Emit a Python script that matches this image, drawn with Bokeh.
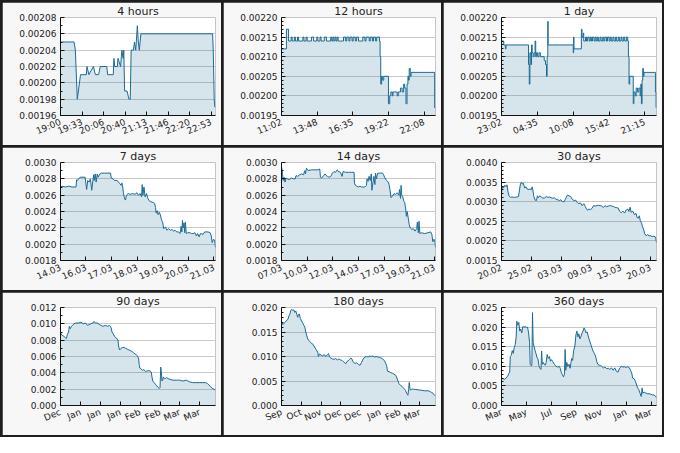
from bokeh.plotting import figure
from bokeh.layouts import gridplot
from bokeh.models import FixedTicker, PrintfTickFormatter, Range1d, ColumnDataSource
from bokeh.embed import file_html
from bokeh.resources import INLINE

# ---------------- data ----------------
# 4 hours: minutes since 19:00
T_4H = [0, 21, 23, 26, 27.7, 31, 40, 41, 44, 51, 54, 59, 61.5, 71.6, 73, 81.7, 82.7, 84, 88, 89,
        93, 95, 97, 98, 99.3, 103, 106, 108, 109.4, 113, 114.5, 116.5, 119, 120.5, 122, 124.5,
        235.5, 236.5, 238, 239]
V_4H = [0.00205, 0.00205, 0.00204, 0.00198, 0.00199, 0.00201, 0.00201, 0.00202, 0.00201, 0.00202,
        0.00201, 0.00201, 0.00202, 0.00202, 0.00201, 0.00201, 0.00203, 0.00202, 0.00202, 0.00203,
        0.00202, 0.00204, 0.00203, 0.00204, 0.00199, 0.00199, 0.00198, 0.00198, 0.00204, 0.00204,
        0.00205, 0.00204, 0.00207, 0.00205, 0.00204, 0.00206, 0.00206, 0.00204, 0.00198, 0.00197]
X_4H_TICKS = [0, 33.3, 66.7, 100, 133.3, 166.7, 200, 233.3]
X_4H_LABELS = ["19:00", "19:33", "20:06", "20:40", "21:13", "21:46", "22:20", "22:53"]
Y_4H_TICKS = [0.00196, 0.00198, 0.00200, 0.00202, 0.00204, 0.00206, 0.00208]

# 12 hours: minutes since 11:02 (step data)
T_12H = [0, 23, 33, 45, 50, 60, 65, 75, 80, 100, 105, 115, 120, 140, 150, 165, 170, 180, 185, 200,
         210, 230, 235, 240, 245, 250, 255, 260, 265, 270, 290, 300, 305, 315, 320, 330, 335, 345,
         350, 360, 380, 390, 395, 410, 415, 425, 430, 440, 445, 458, 461, 464, 468, 473, 478, 500,
         506, 511, 518, 521, 541, 546, 556, 564, 571, 576, 582, 587, 591, 594, 597, 602, 606, 716, 720]
V_12H = [0.00212, 0.00217, 0.00214, 0.00215, 0.00214, 0.00215, 0.00214, 0.00215, 0.00214, 0.00215,
         0.00214, 0.00215, 0.00214, 0.00215, 0.00214, 0.00215, 0.00214, 0.00215, 0.00214, 0.00215,
         0.00214, 0.00215, 0.00214, 0.00215, 0.00214, 0.00215, 0.00214, 0.00215, 0.00214, 0.00214,
         0.00215, 0.00214, 0.00215, 0.00214, 0.00215, 0.00214, 0.00215, 0.00214, 0.00215, 0.00214,
         0.00215, 0.00214, 0.00215, 0.00214, 0.00215, 0.00214, 0.00215, 0.00214, 0.00215, 0.00214,
         0.00210, 0.00203, 0.00205, 0.00204, 0.00205, 0.00198, 0.00200, 0.00201, 0.00200, 0.00201,
         0.00200, 0.00201, 0.00202, 0.00201, 0.00203, 0.00202, 0.00198, 0.00203, 0.00205, 0.00204,
         0.00207, 0.00205, 0.00206, 0.00197, 0.00197]
X_12H_TICKS = [0, 166.7, 333.3, 500, 666.7]
X_12H_LABELS = ["11:02", "13:48", "16:35", "19:22", "22:08"]
Y_12H_TICKS = [0.00195, 0.00200, 0.00205, 0.00210, 0.00215, 0.00220]

# 1 day: minutes since 23:02 (step data)
T_1D = [0, 21, 36, 42, 251, 258, 264, 273, 279, 285, 294, 303, 312, 318, 324, 336, 348, 361, 397, 409,
        418, 424, 430, 433, 667, 670, 673, 742, 748, 758, 764, 780, 790, 800, 815, 825, 835, 845, 860,
        870, 880, 890, 900, 915, 925, 940, 950, 960, 975, 985, 1000, 1010, 1020, 1035, 1045, 1060,
        1070, 1085, 1095, 1110, 1120, 1135, 1145, 1160, 1173, 1179, 1185, 1191, 1224, 1230, 1242,
        1251, 1264, 1276, 1288, 1294, 1300, 1306, 1312, 1318, 1324, 1430, 1436, 1440]
V_1D = [0.00214, 0.00213, 0.00212, 0.00213, 0.00208, 0.00203, 0.00211, 0.00208, 0.00213, 0.00211,
        0.00210, 0.00211, 0.00214, 0.00210, 0.00211, 0.00210, 0.00211, 0.00210, 0.00209, 0.00208,
        0.00205, 0.00210, 0.00219, 0.00213, 0.00211, 0.00215, 0.00212, 0.00217, 0.00215, 0.00216,
        0.00214, 0.00215, 0.00214, 0.00215, 0.00214, 0.00215, 0.00214, 0.00215, 0.00214, 0.00215,
        0.00214, 0.00215, 0.00214, 0.00215, 0.00214, 0.00215, 0.00214, 0.00215, 0.00214, 0.00215,
        0.00214, 0.00215, 0.00214, 0.00215, 0.00214, 0.00215, 0.00214, 0.00215, 0.00214, 0.00215,
        0.00214, 0.00215, 0.00214, 0.00215, 0.00214, 0.00210, 0.00203, 0.00205, 0.00198, 0.00201,
        0.00200, 0.00202, 0.00201, 0.00202, 0.00200, 0.00203, 0.00198, 0.00204, 0.00207, 0.00205,
        0.00206, 0.00201, 0.00197, 0.00197]
X_1D_TICKS = [0, 333, 666, 1000, 1333]
X_1D_LABELS = ["23:02", "04:35", "10:08", "15:42", "21:15"]
Y_1D_TICKS = [0.00195, 0.00200, 0.00205, 0.00210, 0.00215, 0.00220]

# 7 days: days since start
T_7D = [0.00, 0.07, 0.22, 0.37, 0.52, 0.70, 0.73, 0.76, 0.89, 1.11, 1.18, 1.23, 1.29, 1.35, 1.41,
        1.45, 1.50, 1.52, 1.57, 1.61, 1.66, 1.70, 1.78, 1.85, 2.00, 2.26, 2.29, 2.37, 2.44, 2.56,
        2.62, 2.68, 2.74, 2.77, 2.81, 2.84, 2.89, 2.93, 2.98, 3.06, 3.15, 3.26, 3.36, 3.45, 3.51,
        3.60, 3.66, 3.69, 3.72, 3.77, 3.82, 3.88, 3.95, 4.01, 4.07, 4.19, 4.25, 4.29, 4.32, 4.37,
        4.41, 4.46, 4.51, 4.56, 4.62, 4.66, 4.74, 4.81, 4.88, 4.96, 5.03, 5.11, 5.18, 5.25, 5.33,
        5.40, 5.45, 5.48, 5.51, 5.54, 5.58, 5.61, 5.64, 5.68, 5.73, 5.85, 5.92, 5.99, 6.07, 6.14,
        6.19, 6.26, 6.32, 6.44, 6.51, 6.66, 6.76, 6.81, 6.85, 6.91, 6.96, 7.00]
V_7D = [0.00270, 0.00271, 0.00270, 0.00271, 0.00270, 0.00270, 0.00279, 0.00278, 0.00282, 0.00282,
        0.00267, 0.00278, 0.00276, 0.00280, 0.00266, 0.00275, 0.00285, 0.00278, 0.00286, 0.00276,
        0.00286, 0.00282, 0.00286, 0.00287, 0.00287, 0.00287, 0.00281, 0.00280, 0.00278, 0.00278,
        0.00276, 0.00274, 0.00272, 0.00275, 0.00270, 0.00263, 0.00256, 0.00254, 0.00260, 0.00262,
        0.00261, 0.00262, 0.00261, 0.00263, 0.00260, 0.00262, 0.00258, 0.00273, 0.00260, 0.00270,
        0.00258, 0.00262, 0.00256, 0.00253, 0.00252, 0.00251, 0.00250, 0.00245, 0.00238, 0.00241,
        0.00236, 0.00239, 0.00236, 0.00230, 0.00226, 0.00219, 0.00221, 0.00217, 0.00219, 0.00217,
        0.00218, 0.00216, 0.00217, 0.00215, 0.00215, 0.00213, 0.00222, 0.00215, 0.00229, 0.00220,
        0.00226, 0.00214, 0.00227, 0.00213, 0.00214, 0.00214, 0.00213, 0.00213, 0.00214, 0.00210,
        0.00213, 0.00209, 0.00213, 0.00212, 0.00215, 0.00215, 0.00214, 0.00210, 0.00202, 0.00206,
        0.00205, 0.00196]
X_7D_TICKS = [0, 1.15, 2.31, 3.46, 4.62, 5.77, 6.93]
X_7D_LABELS = ["14.03", "16.03", "17.03", "18.03", "19.03", "20.03", "21.03"]
Y_7D_TICKS = [0.0018, 0.0020, 0.0022, 0.0024, 0.0026, 0.0028, 0.0030]

# 14 days
T_14D = [0.00, 0.06, 0.15, 0.24, 0.32, 0.41, 0.53, 0.71, 0.88, 1.09, 1.24, 1.33, 1.47, 1.65, 1.83,
         2.00, 2.12, 2.18, 2.27, 2.42, 2.71, 3.01, 3.30, 3.48, 3.54, 3.65, 3.83, 3.95, 4.07, 4.18,
         4.33, 4.48, 4.63, 4.77, 4.92, 5.07, 5.16, 5.36, 5.51, 5.60, 5.81, 6.10, 6.39, 6.60, 6.63,
         6.72, 6.84, 6.98, 7.13, 7.28, 7.57, 7.72, 7.78, 7.87, 7.96, 8.07, 8.16, 8.22, 8.31, 8.40,
         8.49, 8.55, 8.63, 8.75, 8.90, 9.19, 9.28, 9.40, 9.55, 9.70, 9.78, 9.87, 9.96, 10.08, 10.23,
         10.37, 10.52, 10.67, 10.73, 10.82, 10.87, 10.93, 11.02, 11.11, 11.20, 11.29, 11.35, 11.43,
         11.52, 11.61, 11.70, 11.85, 11.99, 12.14, 12.29, 12.35, 12.44, 12.50, 12.58, 12.73, 13.02,
         13.32, 13.56, 13.67, 13.76, 13.85, 13.94, 14.00]
V_14D = [0.00295, 0.00290, 0.00278, 0.00282, 0.00276, 0.00281, 0.00280, 0.00279, 0.00281, 0.00280,
         0.00280, 0.00284, 0.00283, 0.00285, 0.00286, 0.00285, 0.00290, 0.00286, 0.00293, 0.00290,
         0.00291, 0.00291, 0.00291, 0.00292, 0.00282, 0.00281, 0.00284, 0.00286, 0.00284, 0.00283,
         0.00282, 0.00283, 0.00287, 0.00289, 0.00288, 0.00291, 0.00289, 0.00288, 0.00283, 0.00289,
         0.00288, 0.00288, 0.00288, 0.00288, 0.00275, 0.00272, 0.00271, 0.00270, 0.00271, 0.00270,
         0.00270, 0.00272, 0.00280, 0.00277, 0.00283, 0.00278, 0.00286, 0.00266, 0.00275, 0.00283,
         0.00273, 0.00287, 0.00280, 0.00287, 0.00287, 0.00287, 0.00285, 0.00281, 0.00278, 0.00276,
         0.00273, 0.00266, 0.00257, 0.00259, 0.00262, 0.00261, 0.00263, 0.00260, 0.00267, 0.00256,
         0.00272, 0.00260, 0.00258, 0.00253, 0.00251, 0.00243, 0.00234, 0.00240, 0.00232, 0.00224,
         0.00220, 0.00218, 0.00219, 0.00216, 0.00219, 0.00227, 0.00214, 0.00228, 0.00213, 0.00214,
         0.00213, 0.00214, 0.00215, 0.00212, 0.00203, 0.00206, 0.00204, 0.00196]
X_14D_TICKS = [0, 2.33, 4.65, 6.98, 9.33, 11.65, 13.9]
X_14D_LABELS = ["07.03", "10.03", "12.03", "14.03", "17.03", "19.03", "21.03"]
Y_14D_TICKS = [0.0018, 0.0020, 0.0022, 0.0024, 0.0026, 0.0028, 0.0030]

# 30 days
T_30D = [0.00, 0.19, 0.38, 0.63, 0.88, 1.07, 1.26, 1.45, 1.71, 2.02, 2.46, 2.97, 3.29, 3.48, 3.67,
         3.86, 4.04, 4.23, 4.49, 4.74, 4.99, 5.31, 5.50, 5.75, 5.94, 6.07, 6.26, 6.51, 6.76, 6.95,
         7.14, 7.39, 7.71, 8.03, 8.34, 8.66, 8.97, 9.29, 9.61, 9.92, 10.24, 10.55, 10.87, 11.19,
         11.50, 11.82, 12.13, 12.45, 12.77, 13.08, 13.40, 13.71, 14.03, 14.35, 14.66, 14.98, 15.29,
         15.61, 15.93, 16.24, 16.43, 16.68, 16.87, 17.19, 17.51, 17.82, 18.14, 18.45, 18.77, 19.09,
         19.40, 19.72, 20.03, 20.35, 20.67, 20.98, 21.30, 21.61, 21.93, 22.25, 22.56, 22.88, 23.19,
         23.51, 23.83, 24.14, 24.46, 24.65, 24.90, 25.09, 25.41, 25.72, 26.04, 26.23, 26.48, 26.67,
         26.86, 27.11, 27.30, 27.49, 27.74, 28.00, 28.25, 28.57, 28.88, 29.20, 29.51, 29.77, 29.89,
         30.00]
V_30D = [0.00323, 0.00340, 0.00335, 0.00342, 0.00338, 0.00343, 0.00325, 0.00315, 0.00311, 0.00312,
         0.00311, 0.00312, 0.00313, 0.00330, 0.00345, 0.00350, 0.00345, 0.00347, 0.00335, 0.00338,
         0.00332, 0.00331, 0.00333, 0.00330, 0.00338, 0.00330, 0.00313, 0.00304, 0.00303, 0.00315,
         0.00310, 0.00315, 0.00312, 0.00309, 0.00310, 0.00313, 0.00311, 0.00312, 0.00310, 0.00309,
         0.00310, 0.00306, 0.00305, 0.00303, 0.00305, 0.00300, 0.00300, 0.00309, 0.00317, 0.00315,
         0.00313, 0.00306, 0.00303, 0.00304, 0.00298, 0.00295, 0.00297, 0.00290, 0.00295, 0.00287,
         0.00282, 0.00278, 0.00281, 0.00280, 0.00283, 0.00290, 0.00289, 0.00290, 0.00291, 0.00290,
         0.00289, 0.00285, 0.00290, 0.00287, 0.00289, 0.00290, 0.00289, 0.00288, 0.00286, 0.00285,
         0.00284, 0.00275, 0.00272, 0.00276, 0.00271, 0.00279, 0.00281, 0.00275, 0.00286, 0.00273,
         0.00276, 0.00267, 0.00270, 0.00260, 0.00258, 0.00264, 0.00252, 0.00245, 0.00236, 0.00230,
         0.00218, 0.00213, 0.00216, 0.00213, 0.00213, 0.00211, 0.00212, 0.00210, 0.00205, 0.00196]
X_30D_TICKS = [0, 5.85, 11.6, 17.4, 23.1, 28.8]
X_30D_LABELS = ["20.02", "25.02", "03.03", "09.03", "15.03", "20.03"]
Y_30D_TICKS = [0.0015, 0.0020, 0.0025, 0.0030, 0.0035, 0.0040]

# 90 days
T_90D = [0.0, 0.9, 1.9, 2.8, 3.4, 4.0, 4.7, 5.1, 5.7, 6.3, 7.0, 7.8, 8.9, 10.4, 11.9, 13.3, 14.6,
         15.7, 16.5, 17.6, 18.8, 19.5, 20.3, 21.4, 22.7, 23.7, 24.6, 26.0, 27.5, 28.4, 29.0, 29.4,
         29.9, 30.5, 31.3, 32.0, 32.8, 33.4, 33.7, 34.3, 35.1, 36.0, 37.0, 37.9, 38.8, 39.8, 40.7,
         41.7, 42.6, 43.6, 44.5, 45.3, 45.7, 46.0, 46.8, 47.6, 48.3, 49.3, 50.2, 51.2, 52.1, 52.7,
         53.1, 53.6, 54.4, 55.1, 55.9, 56.7, 57.4, 57.8, 58.2, 58.6, 58.9, 59.3, 59.7, 60.3, 60.8,
         61.6, 62.5, 63.5, 65.4, 67.3, 69.2, 71.1, 73.0, 74.9, 76.7, 78.6, 80.5, 82.4, 84.3, 85.3,
         86.2, 87.2, 88.1, 89.1, 90.0]
V_90D = [0.0089, 0.0086, 0.0085, 0.0083, 0.0082, 0.0087, 0.0090, 0.0097, 0.0094, 0.0097, 0.0098,
         0.0100, 0.0101, 0.0101, 0.0102, 0.0100, 0.0101, 0.0098, 0.0099, 0.0100, 0.0101, 0.0103,
         0.0101, 0.0101, 0.0099, 0.0098, 0.0097, 0.0098, 0.0097, 0.0098, 0.0097, 0.0095, 0.0090,
         0.0088, 0.0085, 0.0083, 0.0082, 0.0080, 0.0073, 0.0068, 0.0070, 0.0071, 0.0071, 0.0070,
         0.0069, 0.0068, 0.0067, 0.0066, 0.0064, 0.0063, 0.0061, 0.0058, 0.0050, 0.0046, 0.0045,
         0.0043, 0.0044, 0.0042, 0.0042, 0.0043, 0.0042, 0.0041, 0.0035, 0.0030, 0.0028, 0.0026,
         0.0024, 0.0022, 0.0021, 0.0022, 0.0047, 0.0040, 0.0030, 0.0031, 0.0035, 0.0033, 0.0033,
         0.0034, 0.0033, 0.0032, 0.0031, 0.0031, 0.0031, 0.0030, 0.0031, 0.0029, 0.0028, 0.0028,
         0.0028, 0.0028, 0.0028, 0.0027, 0.0025, 0.0023, 0.0021, 0.0020, 0.0019]
X_90D_TICKS = [0, 11.6, 23.1, 34.7, 46.2, 57.8, 69.3, 80.9]
X_90D_LABELS = ["Dec", "Jan", "Jan", "Jan", "Feb", "Feb", "Mar", "Mar"]
Y_90D_TICKS = [0.000, 0.002, 0.004, 0.006, 0.008, 0.010, 0.012]

# 180 days
T_180D = [0, 1.5, 3.0, 4.5, 6.1, 7.6, 8.7, 9.9, 11.0, 12.1, 13.3, 14.4, 15.5, 16.7, 17.8, 19.0, 19.7,
          20.8, 22.0, 23.5, 25.0, 26.2, 27.3, 28.4, 29.6, 31.1, 33.0, 34.9, 36.8, 38.7, 40.6, 42.4,
          43.2, 44.3, 46.2, 48.1, 50.0, 51.9, 53.8, 55.0, 56.1, 57.6, 59.5, 61.4, 63.3, 65.2, 67.1,
          69.0, 70.9, 72.0, 73.5, 75.0, 76.6, 78.5, 79.6, 81.1, 82.2, 84.1, 86.0, 87.9, 89.8, 91.7,
          93.6, 95.5, 97.4, 99.3, 101.2, 103.1, 105.0, 106.9, 108.8, 110.7, 112.6, 114.5, 116.4,
          118.2, 120.1, 121.3, 122.8, 123.9, 125.8, 127.7, 129.6, 131.5, 133.4, 134.5, 136.1, 137.2,
          139.1, 141.0, 142.9, 144.8, 146.7, 147.8, 148.6, 149.3, 150.1, 150.8, 152.4, 154.3, 156.1,
          159.9, 163.7, 167.5, 171.3, 173.2, 175.1, 177.0, 178.9, 180.0]
V_180D = [0.0172, 0.0165, 0.0168, 0.0170, 0.0174, 0.0176, 0.0183, 0.0187, 0.0195, 0.0196, 0.0194,
          0.0195, 0.0190, 0.0193, 0.0186, 0.0180, 0.0185, 0.0187, 0.0178, 0.0172, 0.0168, 0.0163,
          0.0160, 0.0150, 0.0142, 0.0134, 0.0131, 0.0127, 0.0125, 0.0119, 0.0114, 0.0108, 0.0100,
          0.0105, 0.0103, 0.0101, 0.0104, 0.0100, 0.0104, 0.0106, 0.0099, 0.0097, 0.0095, 0.0094,
          0.0096, 0.0093, 0.0095, 0.0093, 0.0092, 0.0090, 0.0088, 0.0085, 0.0090, 0.0092, 0.0094,
          0.0097, 0.0095, 0.0088, 0.0086, 0.0087, 0.0084, 0.0082, 0.0088, 0.0095, 0.0099, 0.0100,
          0.0099, 0.0101, 0.0100, 0.0101, 0.0099, 0.0100, 0.0099, 0.0098, 0.0097, 0.0095, 0.0092,
          0.0088, 0.0082, 0.0070, 0.0069, 0.0067, 0.0066, 0.0064, 0.0062, 0.0058, 0.0050, 0.0045,
          0.0041, 0.0039, 0.0035, 0.0031, 0.0024, 0.0021, 0.0033, 0.0047, 0.0035, 0.0031, 0.0034,
          0.0033, 0.0033, 0.0032, 0.0031, 0.0030, 0.0030, 0.0029, 0.0027, 0.0025, 0.0021, 0.0019]
X_180D_TICKS = [0, 23.1, 46.2, 69.4, 92.5, 115.6, 138.7, 161.8]
X_180D_LABELS = ["Sep", "Oct", "Nov", "Dec", "Dec", "Jan", "Feb", "Mar"]
Y_180D_TICKS = [0.000, 0.005, 0.010, 0.015, 0.020]

# 360 days
T_360D = [0, 3.0, 6.8, 10.6, 14.4, 17.4, 19.0, 20.5, 22.7, 25.0, 27.3, 29.6, 31.8, 34.1, 35.6, 37.9,
          40.2, 42.4, 44.7, 47.0, 49.3, 52.3, 55.3, 58.4, 60.6, 62.9, 65.2, 66.7, 69.0, 70.5, 72.0,
          73.5, 75.8, 78.1, 80.3, 82.6, 84.9, 87.2, 89.4, 91.7, 93.2, 94.8, 97.0, 99.3, 101.6, 103.8,
          106.1, 108.4, 111.4, 113.7, 116.0, 119.0, 122.8, 126.6, 130.4, 134.2, 136.4, 138.7, 141.7,
          144.0, 146.3, 147.8, 149.3, 151.6, 153.9, 156.9, 159.2, 161.5, 163.0, 165.2, 167.5, 170.6,
          172.8, 175.1, 177.4, 179.6, 181.9, 184.2, 187.2, 189.5, 191.8, 194.0, 196.3, 198.6, 200.9,
          203.1, 205.4, 207.7, 210.0, 212.2, 214.5, 216.8, 219.1, 221.3, 223.6, 226.6, 229.7, 232.7,
          236.5, 240.3, 244.1, 247.9, 251.7, 255.4, 259.2, 263.0, 266.8, 270.6, 274.4, 278.2, 282.0,
          285.8, 289.6, 293.3, 297.1, 299.4, 302.4, 304.7, 308.5, 310.8, 313.1, 316.1, 319.1, 322.2,
          324.4, 326.7, 328.2, 331.2, 335.0, 338.8, 342.6, 346.4, 350.2, 354.0, 357.8, 360.0]
V_360D = [0.0072, 0.0068, 0.0067, 0.0070, 0.0075, 0.0082, 0.0085, 0.0125, 0.0128, 0.0140, 0.0133,
          0.0148, 0.0155, 0.0175, 0.0215, 0.0205, 0.0212, 0.0190, 0.0195, 0.0185, 0.0201, 0.0200,
          0.0201, 0.0199, 0.0200, 0.0185, 0.0160, 0.0105, 0.0101, 0.0103, 0.0237, 0.0160, 0.0150,
          0.0140, 0.0132, 0.0122, 0.0118, 0.0100, 0.0095, 0.0092, 0.0139, 0.0105, 0.0110, 0.0105,
          0.0103, 0.0110, 0.0130, 0.0120, 0.0125, 0.0113, 0.0117, 0.0112, 0.0105, 0.0100, 0.0098,
          0.0100, 0.0095, 0.0085, 0.0078, 0.0073, 0.0080, 0.0143, 0.0090, 0.0110, 0.0100, 0.0105,
          0.0095, 0.0110, 0.0120, 0.0115, 0.0140, 0.0152, 0.0180, 0.0190, 0.0175, 0.0183, 0.0170,
          0.0175, 0.0185, 0.0190, 0.0198, 0.0193, 0.0185, 0.0188, 0.0180, 0.0170, 0.0163, 0.0155,
          0.0147, 0.0140, 0.0135, 0.0130, 0.0123, 0.0112, 0.0105, 0.0103, 0.0102, 0.0100, 0.0096,
          0.0098, 0.0094, 0.0095, 0.0092, 0.0096, 0.0090, 0.0096, 0.0087, 0.0085, 0.0095, 0.0100,
          0.0098, 0.0099, 0.0097, 0.0099, 0.0096, 0.0090, 0.0083, 0.0070, 0.0068, 0.0062, 0.0055,
          0.0045, 0.0040, 0.0030, 0.0023, 0.0045, 0.0031, 0.0034, 0.0032, 0.0030, 0.0030, 0.0029,
          0.0027, 0.0027, 0.0024, 0.0020]
X_360D_TICKS = [0, 58, 116, 174, 232, 290, 348]
X_360D_LABELS = ["Mar", "May", "Jul", "Sep", "Nov", "Jan", "Mar"]
Y_360D_TICKS = [0.000, 0.005, 0.010, 0.015, 0.020, 0.025]

TITLES = ["4 hours", "12 hours", "1 day", "7 days", "14 days", "30 days", "90 days", "180 days", "360 days"]

# ---------------- drawing ----------------
LINE = "#1b6b96"
FONT = "DejaVu Sans"
COL_W = [219, 218, 219]
ROW_H = 143


def minor_between(ticks, n):
    out = []
    for a, b in zip(ticks[:-1], ticks[1:]):
        for k in range(1, n):
            out.append(a + (b - a) * k / n)
    return out


def panel(title, xs, ys, xspan, xticks, xlabels, yticks, nminor, fmt, width, step=False):
    p = figure(width=width, height=ROW_H, output_backend="svg", toolbar_location=None,
               x_range=Range1d(0, xspan), y_range=Range1d(yticks[0], yticks[-1]),
               min_border_left=58, min_border_right=6, min_border_top=4, min_border_bottom=30,
               background_fill_color="white", border_fill_color="#f7f7f7", outline_line_color=None)
    p.title.text = title
    p.title.align = "center"
    p.title.text_font = FONT
    p.title.text_font_size = "11px"
    p.title.text_font_style = "normal"
    p.title.text_color = "#222222"
    p.title.standoff = 0
    src = ColumnDataSource(dict(x=xs, y=ys, base=[0.0] * len(xs)))
    if step:
        p.varea_step(x="x", y1="base", y2="y", step_mode="after", source=src,
                     fill_color=LINE, fill_alpha=0.18)
        p.step(x="x", y="y", mode="after", source=src, line_color=LINE, line_width=1)
    else:
        p.varea(x="x", y1="base", y2="y", source=src, fill_color=LINE, fill_alpha=0.18)
        p.line(x="x", y="y", source=src, line_color=LINE, line_width=1)

    p.xgrid.visible = False
    p.ygrid.grid_line_color = "#c8c8c8"
    p.ygrid.grid_line_width = 1
    p.ygrid.ticker = FixedTicker(ticks=yticks)

    xa = p.xaxis[0]
    xa.ticker = FixedTicker(ticks=xticks, minor_ticks=[])
    xa.major_label_overrides = {float(t): l for t, l in zip(xticks, xlabels)}
    xa.major_label_orientation = 0.4
    ya = p.yaxis[0]
    ya.ticker = FixedTicker(ticks=yticks, minor_ticks=minor_between(yticks, nminor))
    ya.formatter = PrintfTickFormatter(format=fmt)
    for ax in (xa, ya):
        ax.axis_line_color = "#111111"
        ax.major_tick_in = 4
        ax.major_tick_out = 0
        ax.minor_tick_in = 2
        ax.minor_tick_out = 0
        ax.major_tick_line_color = "#111111"
        ax.minor_tick_line_color = "#111111"
        ax.major_label_text_font = FONT
        ax.major_label_text_font_size = "9px"
        ax.major_label_text_color = "#222222"
    xa.major_label_standoff = 6
    ya.major_label_standoff = 4
    return p


figs = [
    panel(TITLES[0], T_4H, V_4H, 240, X_4H_TICKS, X_4H_LABELS, Y_4H_TICKS, 2, "%.5f", COL_W[0]),
    panel(TITLES[1], T_12H, V_12H, 720, X_12H_TICKS, X_12H_LABELS, Y_12H_TICKS, 5, "%.5f", COL_W[1], step=True),
    panel(TITLES[2], T_1D, V_1D, 1440, X_1D_TICKS, X_1D_LABELS, Y_1D_TICKS, 5, "%.5f", COL_W[2], step=True),
    panel(TITLES[3], T_7D, V_7D, 7.0, X_7D_TICKS, X_7D_LABELS, Y_7D_TICKS, 2, "%.4f", COL_W[0]),
    panel(TITLES[4], T_14D, V_14D, 14.0, X_14D_TICKS, X_14D_LABELS, Y_14D_TICKS, 2, "%.4f", COL_W[1]),
    panel(TITLES[5], T_30D, V_30D, 30.0, X_30D_TICKS, X_30D_LABELS, Y_30D_TICKS, 5, "%.4f", COL_W[2]),
    panel(TITLES[6], T_90D, V_90D, 90.0, X_90D_TICKS, X_90D_LABELS, Y_90D_TICKS, 2, "%.3f", COL_W[0]),
    panel(TITLES[7], T_180D, V_180D, 180.0, X_180D_TICKS, X_180D_LABELS, Y_180D_TICKS, 5, "%.3f", COL_W[1]),
    panel(TITLES[8], T_360D, V_360D, 360.0, X_360D_TICKS, X_360D_LABELS, Y_360D_TICKS, 5, "%.3f", COL_W[2]),
]

g = gridplot(figs, ncols=3, toolbar_location=None)
g.spacing = 2
g.styles = {"background-color": "#1e1e1e", "padding": "2px"}

open("out.html", "w").write(file_html(g, INLINE))
